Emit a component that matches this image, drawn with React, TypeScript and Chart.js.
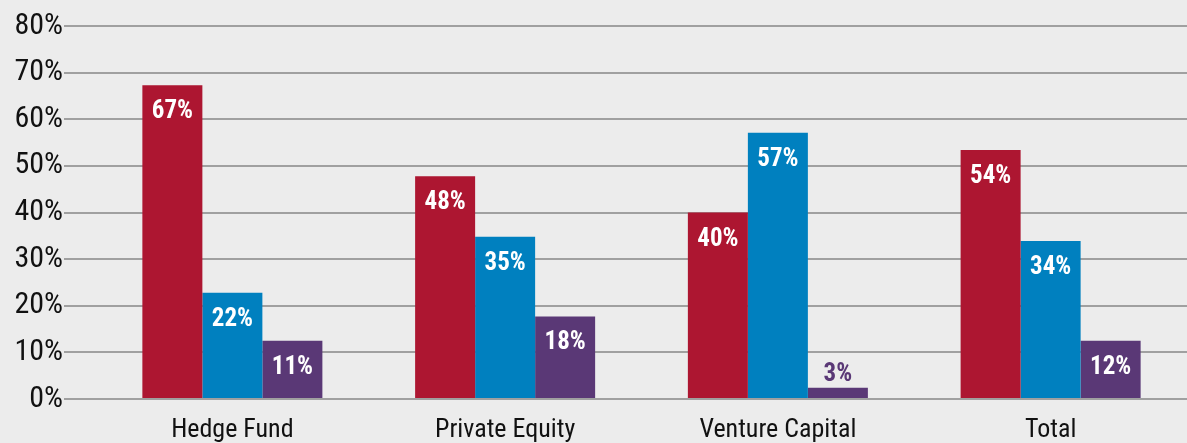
import React, { useEffect, useRef } from "react";
import { Chart, registerables } from "chart.js";

Chart.register(...registerables);

const categories = ["Hedge Fund", "Private Equity", "Venture Capital", "Total"];
const seriesA = [67.3, 47.8, 40.0, 53.4];
const seriesB = [22.8, 34.8, 57.1, 33.9];
const seriesC = [12.5, 17.7, 2.4, 12.5];
const labelsA = ["67%", "48%", "40%", "54%"];
const labelsB = ["22%", "35%", "57%", "34%"];
const labelsC = ["11%", "18%", "3%", "12%"];
const yTicks = [0, 10, 20, 30, 40, 50, 60, 70, 80];

const FONT = "'Roboto Condensed', 'Liberation Sans Narrow', 'DejaVu Sans Condensed', Roboto, sans-serif";
const COLORS = ["#ad1631", "#0080bf", "#5a3876"];

const valueLabels = {
  id: "valueLabels",
  afterDatasetsDraw(chart: any) {
    const ctx = chart.ctx;
    const lbls = [labelsA, labelsB, labelsC];
    ctx.save();
    ctx.font = `bold 25px ${FONT}`;
    ctx.textAlign = "center";
    ctx.textBaseline = "alphabetic";
    chart.data.datasets.forEach((ds: any, di: number) => {
      const meta = chart.getDatasetMeta(di);
      meta.data.forEach((bar: any, i: number) => {
        const h = bar.base - bar.y;
        const text = lbls[di][i];
        if (h > 40) {
          ctx.fillStyle = "#ffffff";
          ctx.fillText(text, bar.x, bar.y + 33);
        } else {
          ctx.fillStyle = ds.backgroundColor;
          ctx.fillText(text, bar.x, bar.y - 7);
        }
      });
    });
    ctx.restore();
  },
};

export default function App() {
  const ref = useRef<HTMLCanvasElement>(null);
  useEffect(() => {
    if (!ref.current) return;
    const chart = new Chart(ref.current, {
      type: "bar",
      data: {
        labels: categories,
        datasets: [
          { data: seriesA, backgroundColor: COLORS[0] },
          { data: seriesB, backgroundColor: COLORS[1] },
          { data: seriesC, backgroundColor: COLORS[2] },
        ],
      },
      options: {
        responsive: false,
        animation: false,
        events: [],
        layout: { padding: { top: 26, right: 0, left: 0, bottom: 0 } },
        plugins: { legend: { display: false }, tooltip: { enabled: false } },
        datasets: { bar: { categoryPercentage: 0.66, barPercentage: 1 } },
        scales: {
          x: {
            grid: { display: false },
            border: { display: false },
            ticks: { color: "#111", font: { family: FONT, size: 26 }, padding: 8 },
            afterFit: (s: any) => { s.height = 44; },
          },
          y: {
            min: 0,
            max: 80,
            afterBuildTicks: (s: any) => { s.ticks = yTicks.map((v) => ({ value: v })); },
            grid: { color: "#a0a0a0", lineWidth: 2, tickLength: 32, tickColor: "#a0a0a0" },
            border: { display: false },
            ticks: {
              color: "#111",
              font: { family: FONT, size: 30 },
              padding: 1,
              callback: (v: any) => `${v}%`,
            },
            afterFit: (s: any) => { s.width = 96; },
          },
        },
      },
      plugins: [valueLabels],
    });
    return () => chart.destroy();
  }, []);
  return (
    <div style={{ position: "absolute", left: 0, top: 0, width: 1187, height: 443, background: "#ececec" }}>
      <canvas ref={ref} width={1187} height={443} />
    </div>
  );
}
